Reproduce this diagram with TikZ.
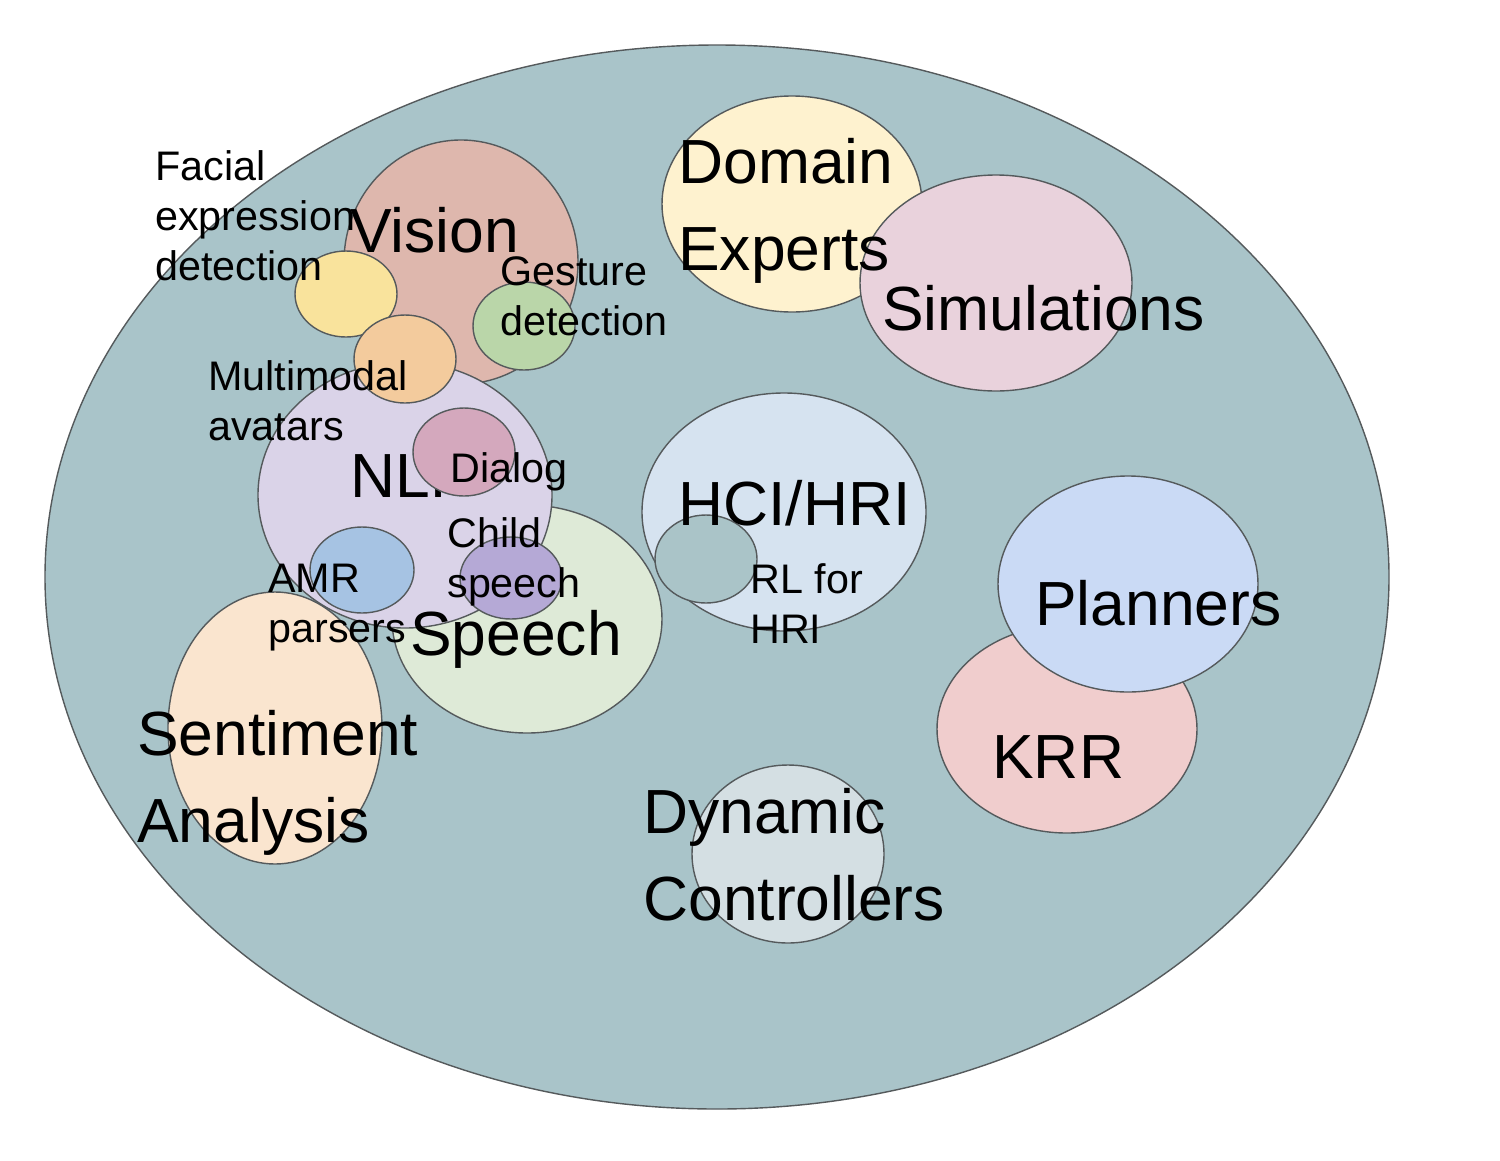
\documentclass[tikz,border=0pt]{standalone}
\usepackage{fontspec}
\setmainfont{Liberation Sans}
\definecolor{bgc}{HTML}{A9C4C9}
\definecolor{visc}{HTML}{DEB7AD}
\definecolor{facc}{HTML}{F9E39C}
\definecolor{mmc}{HTML}{F3CB9D}
\definecolor{gesc}{HTML}{BAD6A9}
\definecolor{nlpc}{HTML}{DAD3E8}
\definecolor{dlgc}{HTML}{D4A8BD}
\definecolor{amrc}{HTML}{A6C3E3}
\definecolor{chc}{HTML}{B5A9D6}
\definecolor{spc}{HTML}{DEEAD7}
\definecolor{senc}{HTML}{FAE5CF}
\definecolor{domc}{HTML}{FEF2CF}
\definecolor{simc}{HTML}{E9D2DC}
\definecolor{hcic}{HTML}{D6E3F0}
\definecolor{rlc}{HTML}{AAC4C8}
\definecolor{plc}{HTML}{CADAF5}
\definecolor{krrc}{HTML}{F0CDCD}
\definecolor{dync}{HTML}{D4DFE3}
\definecolor{edgec}{HTML}{555A5C}
\tikzset{
  blob/.style={draw=edgec, line width=0.8pt},
  biglbl/.style={anchor=base west, inner sep=0pt, align=left, font=\fontsize{35.5}{49}\selectfont},
  smalllbl/.style={anchor=base west, inner sep=0pt, align=left, font=\fontsize{23.5}{28.4}\selectfont},
}
\begin{document}
\begin{tikzpicture}[x=0.02cm, y=-0.02cm]
\useasboundingbox (0,0) rectangle (1500,1160);
% outer field
\fill[white] (0,0) rectangle (1500,1160);
\draw[blob, fill=bgc] (717,577) ellipse [x radius=672, y radius=532];
% left cluster
\draw[blob, fill=visc] (461,262) ellipse [x radius=117, y radius=122];
\draw[blob, fill=facc] (346,294) ellipse [x radius=51, y radius=43];
\draw[blob, fill=gesc] (524,326) ellipse [x radius=51, y radius=44];
\draw[blob, fill=spc] (527,619) ellipse [x radius=135, y radius=114];
\draw[blob, fill=nlpc] (405,495) ellipse [x radius=147, y radius=133];
\draw[blob, fill=mmc] (405,359) ellipse [x radius=51, y radius=44];
\node[biglbl] (nlp) at (350,497) {NLP};
\draw[blob, fill=dlgc] (464,452) ellipse [x radius=51, y radius=44];
\draw[blob, fill=amrc] (362,570) ellipse [x radius=52, y radius=43];
\draw[blob, fill=chc] (511,578) ellipse [x radius=51, y radius=41];
\draw[blob, fill=senc] (275,728) ellipse [x radius=107, y radius=136];
% upper right
\draw[blob, fill=domc] (792,204) ellipse [x radius=130, y radius=108];
\draw[blob, fill=simc] (996,283) ellipse [x radius=136, y radius=108];
% middle
\draw[blob, fill=hcic] (784,512) ellipse [x radius=142, y radius=119];
\draw[blob, fill=rlc] (706,559) ellipse [x radius=51, y radius=44];
% right
\draw[blob, fill=krrc] (1067,729) ellipse [x radius=130, y radius=104];
\draw[blob, fill=plc] (1128,584) ellipse [x radius=130, y radius=108];
% bottom
\draw[blob, fill=dync] (788,854) ellipse [x radius=96, y radius=89];
% labels (multi-line labels are placed by the baseline of their last line)
\node[smalllbl] (facial) at (155,280) {Facial\\expression\\detection};
\node[biglbl] (vision) at (350,252) {Vision};
\node[smalllbl] (gesture) at (500,335) {Gesture\\detection};
\node[smalllbl] (mm) at (208,440) {Multimodal\\avatars};
\node[smalllbl] (dialog) at (450,482) {Dialog};
\node[smalllbl] (child) at (447,597) {Child\\speech};
\node[smalllbl] (amr) at (268,642) {AMR\\parsers};
\node[biglbl] (speech) at (410,655) {Speech};
\node[biglbl] (sent) at (137,842) {Sentiment\\Analysis};
\node[biglbl] (domain) at (678,270) {Domain\\Experts};
\node[biglbl] (sim) at (882,330) {Simulations};
\node[biglbl] (hci) at (678,525) {HCI/HRI};
\node[smalllbl] (rl) at (750,643) {RL for\\HRI};
\node[biglbl] (plan) at (1035,625) {Planners};
\node[biglbl] (krr) at (992,778) {KRR};
\node[biglbl] (dyn) at (643,920) {Dynamic\\Controllers};
\end{tikzpicture}
\end{document}
